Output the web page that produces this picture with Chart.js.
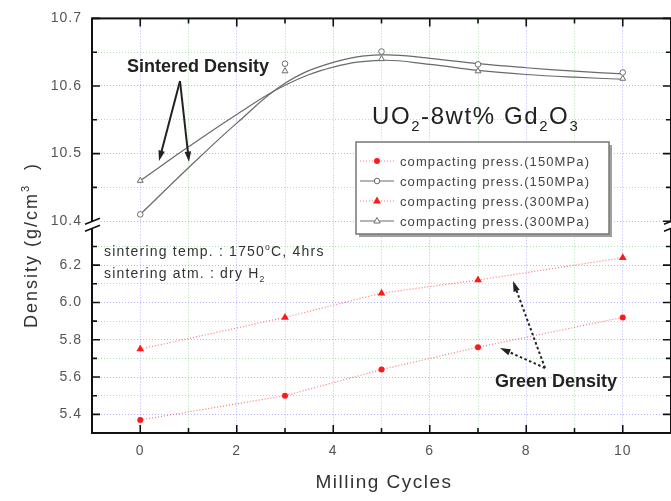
<!DOCTYPE html>
<html>
<head>
<meta charset="utf-8">
<script src="https://cdn.jsdelivr.net/npm/chart.js@4.4.1/dist/chart.umd.min.js"></script>
<style>
html,body{margin:0;padding:0;overflow:hidden;background:#fff;}
#caja{width:676px;height:501px;}
</style>
</head>
<body>
<div id="caja"><canvas id="grafico" width="676" height="501"></canvas></div>
<script>
// valores
const ciclos = [0, 3, 5, 7, 10];
const verde150 = [5.37, 5.50, 5.64, 5.76, 5.92];
const verde300 = [5.75, 5.92, 6.05, 6.12, 6.24];
const sint150 = [10.41, 10.633, 10.651, 10.632, 10.62];
const sint300 = [10.46, 10.622, 10.640, 10.622, 10.611];

const ciclosCurva = [0, 1, 2, 3, 4, 5, 6, 7, 8, 9, 10];
const curva150 = [10.41, 10.479, 10.545, 10.604, 10.635, 10.646, 10.641, 10.633, 10.627, 10.622, 10.618];
const curva300 = [10.46, 10.51, 10.558, 10.601, 10.628, 10.638, 10.632, 10.623, 10.617, 10.613, 10.61];

const ticksX = [0, 2, 4, 6, 8, 10];
const ticksXmenor = [1, 3, 5, 7, 9];
const ticksArriba = [10.4, 10.5, 10.6, 10.7];
const ticksArribaMenor = [10.45, 10.55, 10.65];
const ticksAbajo = [5.4, 5.6, 5.8, 6.0, 6.2];
const ticksAbajoMenor = [5.5, 5.7, 5.9, 6.1, 6.3];

const etiquetas = [
"compacting press.(150MPa)",
"compacting press.(150MPa)",
"compacting press.(300MPa)",
"compacting press.(300MPa)"
];

const azul = "rgba(120,120,255,0.55)";
const verde = "rgba(110,200,110,0.55)";
const rojo = "#ff1a1a";
const gris = "#6a6a6a";
const fuente = "'Liberation Sans', Arial, sans-serif";

function puntos(xs, ys){
return xs.map((x, i) => ({x: x, y: ys[i]}));
}

function esMayor(v, lista){
return lista.some(m => Math.abs(m - v) < 1e-6);
}

function armarTicks(mayores, menores){
return mayores.concat(menores).sort((a, b) => a - b).map(v => ({value: v}));
}

function colorGrilla(mayores){
return function(c){
if(!c.tick) return "rgba(0,0,0,0)";
return esMayor(c.tick.value, mayores) ? azul : verde;
};
}

// texto con subindices y superindices
function texto(ctx, partes, x, y, tam, peso, alinear){
let ancho = 0;
const medidas = partes.map(p => {
const t = p[1] ? tam * 0.62 : tam;
ctx.font = peso + " " + t + "px " + fuente;
const w = ctx.measureText(p[0]).width;
ancho += w;
return {t: t, w: w};
});
let px = alinear == "center" ? x - ancho / 2 : x;
ctx.textAlign = "left";
ctx.textBaseline = "alphabetic";
partes.forEach((p, i) => {
ctx.font = peso + " " + medidas[i].t + "px " + fuente;
let dy = 0;
if(p[1] == "sub") dy = tam * 0.28;
if(p[1] == "sup") dy = -tam * 0.45;
ctx.fillText(p[0], px, y + dy);
px += medidas[i].w;
});
}

function flecha(ctx, x1, y1, x2, y2, punteada){
const ang = Math.atan2(y2 - y1, x2 - x1);
const largo = 11;
ctx.save();
ctx.strokeStyle = "#222";
ctx.fillStyle = "#222";
ctx.lineWidth = 2;
ctx.setLineDash(punteada ? [2.5, 2.5] : []);
ctx.beginPath();
ctx.moveTo(x1, y1);
ctx.lineTo(x2 - Math.cos(ang) * largo * 0.8, y2 - Math.sin(ang) * largo * 0.8);
ctx.stroke();
ctx.setLineDash([]);
ctx.beginPath();
ctx.moveTo(x2, y2);
ctx.lineTo(x2 - Math.cos(ang - 0.3) * largo, y2 - Math.sin(ang - 0.3) * largo);
ctx.lineTo(x2 - Math.cos(ang + 0.3) * largo, y2 - Math.sin(ang + 0.3) * largo);
ctx.closePath();
ctx.fill();
ctx.restore();
}

function marcador(ctx, tipo, x, y){
ctx.save();
ctx.setLineDash([]);
if(tipo == "circuloRojo"){
ctx.fillStyle = rojo;
ctx.beginPath(); ctx.arc(x, y, 3, 0, Math.PI * 2); ctx.fill();
}
if(tipo == "trianguloRojo"){
ctx.fillStyle = rojo;
ctx.beginPath(); ctx.moveTo(x, y - 4.5); ctx.lineTo(x + 4, y + 2.5); ctx.lineTo(x - 4, y + 2.5); ctx.closePath(); ctx.fill();
}
if(tipo == "circulo"){
ctx.fillStyle = "#fff"; ctx.strokeStyle = gris; ctx.lineWidth = 1;
ctx.beginPath(); ctx.arc(x, y, 2.8, 0, Math.PI * 2); ctx.fill(); ctx.stroke();
}
if(tipo == "triangulo"){
ctx.fillStyle = "#fff"; ctx.strokeStyle = gris; ctx.lineWidth = 1;
ctx.beginPath(); ctx.moveTo(x, y - 3.5); ctx.lineTo(x + 3.2, y + 2); ctx.lineTo(x - 3.2, y + 2); ctx.closePath(); ctx.fill(); ctx.stroke();
}
ctx.restore();
}

function corte(ctx, x, y){
ctx.save();
ctx.fillStyle = "#fff";
ctx.beginPath();
ctx.moveTo(x - 7, y + 1);
ctx.lineTo(x + 8, y - 5);
ctx.lineTo(x + 8, y + 2);
ctx.lineTo(x - 7, y + 8);
ctx.closePath();
ctx.fill();
ctx.strokeStyle = "#111";
ctx.lineWidth = 1.6;
ctx.beginPath();
ctx.moveTo(x - 7, y + 1); ctx.lineTo(x + 8, y - 5);
ctx.moveTo(x - 7, y + 8); ctx.lineTo(x + 8, y + 2);
ctx.stroke();
ctx.restore();
}

const espaciado = {
id: "espaciado",
beforeDraw(chart){
chart.ctx.letterSpacing = "1px";
}
};

const marco = {
id: "marco",
afterDraw(chart){
const ctx = chart.ctx;
const a = chart.chartArea;
const sx = chart.scales.x;
const sA = chart.scales.yArriba;
const sB = chart.scales.yAbajo;

ctx.save();
ctx.letterSpacing = "0px";
// marco
ctx.strokeStyle = "#111";
ctx.lineWidth = 2;
ctx.strokeRect(a.left, a.top, a.right - a.left, a.bottom - a.top);

// ticks hacia adentro
ctx.lineWidth = 1.6;
ctx.beginPath();
ticksX.concat(ticksXmenor).forEach(v => {
const px = sx.getPixelForValue(v);
const l = esMayor(v, ticksX) ? 8 : 5;
ctx.moveTo(px, a.bottom); ctx.lineTo(px, a.bottom - l);
ctx.moveTo(px, a.top); ctx.lineTo(px, a.top + l);
});
ticksArriba.concat(ticksArribaMenor).forEach(v => {
const py = sA.getPixelForValue(v);
const l = esMayor(v, ticksArriba) ? 8 : 5;
ctx.moveTo(a.left, py); ctx.lineTo(a.left + l, py);
ctx.moveTo(a.right, py); ctx.lineTo(a.right - l, py);
});
ticksAbajo.concat(ticksAbajoMenor).forEach(v => {
const py = sB.getPixelForValue(v);
const l = esMayor(v, ticksAbajo) ? 8 : 5;
ctx.moveTo(a.left, py); ctx.lineTo(a.left + l, py);
ctx.moveTo(a.right, py); ctx.lineTo(a.right - l, py);
});
ctx.stroke();

// corte del eje
corte(ctx, a.left, sA.bottom);
corte(ctx, a.right, sA.bottom);

// leyenda
const lx = 356, ly = 142, lw = 253, lh = 92;
ctx.fillStyle = "#a0a0a0";
ctx.fillRect(lx + 3, ly + 3, lw, lh);
ctx.fillStyle = "#fff";
ctx.fillRect(lx, ly, lw, lh);
ctx.strokeStyle = "#777";
ctx.lineWidth = 1.5;
ctx.strokeRect(lx, ly, lw, lh);
const tipos = ["circuloRojo", "circulo", "trianguloRojo", "triangulo"];
tipos.forEach((t, i) => {
const yy = ly + 19 + i * 20;
ctx.beginPath();
if(i % 2 == 0){
ctx.strokeStyle = "rgba(255,60,60,0.7)"; ctx.lineWidth = 1.2; ctx.setLineDash([1, 2]);
}else{
ctx.strokeStyle = gris; ctx.lineWidth = 1; ctx.setLineDash([]);
}
ctx.moveTo(lx + 4, yy); ctx.lineTo(lx + 38, yy);
ctx.stroke();
ctx.setLineDash([]);
marcador(ctx, t, lx + 21, yy);
ctx.fillStyle = "#444";
ctx.letterSpacing = "1.1px";
texto(ctx, [[etiquetas[i], ""]], lx + 44, yy + 5, 13, "normal", "left");
});

// textos del grafico
ctx.fillStyle = "#222";
ctx.letterSpacing = "1.6px";
texto(ctx, [["UO", ""], ["2", "sub"], ["-8wt% Gd", ""], ["2", "sub"], ["O", ""], ["3", "sub"]], 372, 124, 24, "normal", "left");
ctx.letterSpacing = "0px";
texto(ctx, [["Sintered Density", ""]], 127, 72, 18, "bold", "left");
texto(ctx, [["Green Density", ""]], 495, 387, 18, "bold", "left");
ctx.fillStyle = "#333";
ctx.letterSpacing = "1.2px";
texto(ctx, [["sintering temp. : 1750", ""], ["o", "sup"], ["C, 4hrs", ""]], 104, 256, 14, "normal", "left");
texto(ctx, [["sintering atm. : dry H", ""], ["2", "sub"]], 104, 278, 14, "normal", "left");

flecha(ctx, 180, 81, 159, 161, false);
flecha(ctx, 180, 81, 189, 162, false);
flecha(ctx, 545, 368, 513, 281, true);
flecha(ctx, 545, 368, 500, 348, true);

// titulos de ejes
ctx.fillStyle = "#333";
ctx.letterSpacing = "1.5px";
texto(ctx, [["Milling Cycles", ""]], 384, 488, 19, "normal", "center");
ctx.save();
ctx.translate(37, 245);
ctx.rotate(-Math.PI / 2);
ctx.letterSpacing = "2px";
texto(ctx, [["Density (g/cm", ""], ["3", "sup"], ["  )", ""]], 0, 0, 18, "normal", "center");
ctx.restore();

ctx.restore();
}
};

const ctx = document.getElementById("grafico");

let grafico = new Chart(ctx, {
type: "line",
data: {
datasets: [
{
label: etiquetas[0],
data: puntos(ciclos, verde150),
yAxisID: "yAbajo",
borderColor: "rgba(255,60,60,0.7)",
borderWidth: 1.2,
borderDash: [1, 2],
pointStyle: "circle",
pointRadius: 3,
pointBackgroundColor: rojo,
pointBorderColor: rojo,
pointBorderWidth: 0,
fill: false,
tension: 0
},
{
label: etiquetas[2],
data: puntos(ciclos, verde300),
yAxisID: "yAbajo",
borderColor: "rgba(255,60,60,0.7)",
borderWidth: 1.2,
borderDash: [1, 2],
pointStyle: "triangle",
pointRadius: 4.5,
pointBackgroundColor: rojo,
pointBorderColor: rojo,
pointBorderWidth: 0,
fill: false,
tension: 0
},
{
label: etiquetas[1],
data: puntos(ciclos, sint150),
yAxisID: "yArriba",
showLine: false,
pointStyle: "circle",
pointRadius: 2.8,
pointBackgroundColor: "#fff",
pointBorderColor: gris,
pointBorderWidth: 1
},
{
label: etiquetas[3],
data: puntos(ciclos, sint300),
yAxisID: "yArriba",
showLine: false,
pointStyle: "triangle",
pointRadius: 3.4,
pointBackgroundColor: "#fff",
pointBorderColor: gris,
pointBorderWidth: 1
},
{
label: "curva 150",
data: puntos(ciclosCurva, curva150),
yAxisID: "yArriba",
borderColor: gris,
borderWidth: 1.2,
pointRadius: 0,
tension: 0.4,
fill: false
},
{
label: "curva 300",
data: puntos(ciclosCurva, curva300),
yAxisID: "yArriba",
borderColor: gris,
borderWidth: 1.2,
pointRadius: 0,
tension: 0.4,
fill: false
}
]
},
options: {
responsive: false,
animation: false,
layout: {padding: {top: 16, right: 2, left: 0, bottom: 0}},
plugins: {
legend: {display: false},
tooltip: {enabled: false}
},
scales: {
x: {
type: "linear",
min: -1,
max: 11,
afterBuildTicks: s => { s.ticks = armarTicks(ticksX, ticksXmenor); },
afterFit: s => { s.height = 68; },
grid: {color: colorGrilla(ticksX), lineWidth: 1, drawTicks: false},
border: {display: false, dash: [1, 2]},
ticks: {
padding: 10,
autoSkip: false,
maxRotation: 0,
color: "#555",
font: {size: 14, family: fuente},
callback: v => esMayor(v, ticksX) ? String(v) : ""
}
},
yAbajo: {
type: "linear",
position: "left",
stack: "densidad",
stackWeight: 211,
min: 5.3,
max: 6.425,
afterBuildTicks: s => { s.ticks = armarTicks(ticksAbajo, ticksAbajoMenor); },
afterFit: s => { s.width = 92; },
grid: {color: colorGrilla(ticksAbajo), lineWidth: 1, drawTicks: false},
border: {display: false, dash: [1, 2]},
ticks: {
padding: 10,
autoSkip: false,
color: "#555",
font: {size: 14, family: fuente},
callback: v => esMayor(v, ticksAbajo) ? v.toFixed(1) : ""
}
},
yArriba: {
type: "linear",
position: "left",
stack: "densidad",
stackWeight: 206,
min: 10.397,
max: 10.7,
afterBuildTicks: s => { s.ticks = armarTicks(ticksArriba, ticksArribaMenor); },
afterFit: s => { s.width = 92; },
grid: {color: colorGrilla(ticksArriba), lineWidth: 1, drawTicks: false},
border: {display: false, dash: [1, 2]},
ticks: {
padding: 10,
autoSkip: false,
color: "#555",
font: {size: 14, family: fuente},
callback: v => esMayor(v, ticksArriba) ? v.toFixed(1) : ""
}
}
}
},
plugins: [espaciado, marco]
});
</script>
</body>
</html>
